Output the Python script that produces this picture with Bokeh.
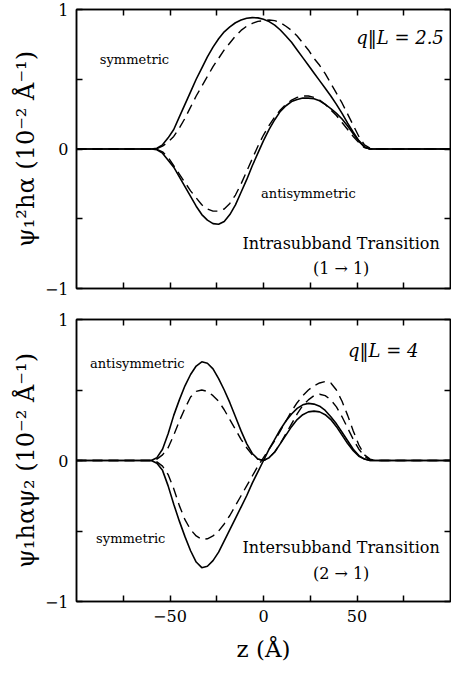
from bokeh.plotting import figure
from bokeh.models import LinearAxis, FixedTicker, Label, Range1d
from bokeh.layouts import column
from bokeh.embed import file_html
from bokeh.resources import INLINE

# z positions (Angstrom)
z = [-100, -60, -57, -54, -51, -48, -45, -42, -39, -36, -33, -30, -27, -24, -21,
     -18, -15, -12, -9, -6, -3, 0, 3, 6, 9, 12, 15, 18, 21, 24, 27, 30, 33, 36,
     39, 42, 45, 48, 51, 54, 57, 60, 100]

# Upper panel: intrasubband transition (1 -> 1), q L = 2.5
top_sym_solid = [0, 0, 0.005, 0.03, 0.08, 0.14, 0.23, 0.32, 0.41, 0.50, 0.58, 0.66, 0.73,
                 0.79, 0.84, 0.875, 0.905, 0.925, 0.937, 0.942, 0.94, 0.93, 0.913, 0.888,
                 0.853, 0.81, 0.765, 0.71, 0.655, 0.60, 0.545, 0.49, 0.435, 0.38, 0.32,
                 0.255, 0.185, 0.12, 0.06, 0.015, 0, 0, 0]
top_anti_solid = [0, 0, -0.005, -0.03, -0.08, -0.13, -0.20, -0.27, -0.34, -0.41, -0.47, -0.51,
                  -0.535, -0.54, -0.52, -0.47, -0.40, -0.31, -0.22, -0.12, -0.03, 0.06, 0.14,
                  0.21, 0.27, 0.31, 0.34, 0.355, 0.365, 0.365, 0.36, 0.345, 0.32, 0.29,
                  0.255, 0.215, 0.165, 0.11, 0.055, 0.015, 0, 0, 0]
top_sym_dash = [0, 0, 0.003, 0.02, 0.05, 0.09, 0.15, 0.22, 0.30, 0.38, 0.45, 0.52, 0.59, 0.65,
                0.71, 0.76, 0.81, 0.85, 0.88, 0.90, 0.915, 0.92, 0.925, 0.92, 0.905, 0.88,
                0.85, 0.81, 0.76, 0.71, 0.65, 0.60, 0.54, 0.47, 0.40, 0.33, 0.25, 0.17,
                0.09, 0.03, 0.005, 0, 0]
top_anti_dash = [0, 0, -0.003, -0.02, -0.06, -0.12, -0.18, -0.24, -0.30, -0.35, -0.40, -0.43,
                 -0.445, -0.445, -0.43, -0.39, -0.33, -0.25, -0.16, -0.07, 0.02, 0.10, 0.17,
                 0.23, 0.28, 0.32, 0.35, 0.37, 0.38, 0.38, 0.37, 0.35, 0.32, 0.28, 0.24,
                 0.19, 0.14, 0.09, 0.045, 0.01, 0, 0, 0]

# Lower panel: intersubband transition (2 -> 1), q L = 4
bot_anti_solid = [0, 0, 0.02, 0.08, 0.19, 0.32, 0.43, 0.53, 0.61, 0.67, 0.70, 0.69, 0.65,
                  0.58, 0.50, 0.41, 0.31, 0.21, 0.12, 0.05, 0.01, 0.0, 0.02, 0.06, 0.12,
                  0.18, 0.24, 0.29, 0.325, 0.345, 0.35, 0.345, 0.325, 0.29, 0.24, 0.18,
                  0.12, 0.07, 0.03, 0.01, 0, 0, 0]
bot_sym_solid = [0, 0, -0.02, -0.07, -0.18, -0.31, -0.43, -0.54, -0.64, -0.72, -0.76, -0.75,
                 -0.71, -0.65, -0.57, -0.49, -0.41, -0.33, -0.25, -0.16, -0.08, 0.0, 0.08,
                 0.15, 0.22, 0.28, 0.33, 0.37, 0.395, 0.405, 0.40, 0.385, 0.355, 0.31, 0.26,
                 0.20, 0.14, 0.08, 0.035, 0.01, 0, 0, 0]
bot_sym_dash = [0, 0, -0.01, -0.04, -0.10, -0.20, -0.32, -0.42, -0.49, -0.535, -0.56, -0.555,
                -0.535, -0.50, -0.45, -0.39, -0.32, -0.25, -0.18, -0.11, -0.04, 0.02, 0.08,
                0.14, 0.21, 0.28, 0.35, 0.41, 0.46, 0.50, 0.53, 0.55, 0.56, 0.55, 0.50, 0.42,
                0.32, 0.21, 0.11, 0.04, 0.01, 0, 0]
bot_anti_dash = [0, 0, 0.01, 0.04, 0.09, 0.18, 0.28, 0.37, 0.45, 0.49, 0.50, 0.49, 0.46, 0.42,
                 0.36, 0.29, 0.22, 0.15, 0.09, 0.04, 0.01, 0.0, 0.02, 0.06, 0.12, 0.19, 0.26,
                 0.33, 0.39, 0.43, 0.46, 0.47, 0.46, 0.43, 0.38, 0.31, 0.23, 0.15, 0.08, 0.03,
                 0.005, 0, 0]

x_ticks = [-75, -50, -25, 0, 25, 50, 75]
x_tick_labels = {-75: "", -50: "\u221250", -25: "", 0: "0", 25: "", 50: "50", 75: ""}
y_ticks = [-1, -0.5, 0, 0.5, 1]
y_tick_labels = {-1: "\u22121", -0.5: "", 0: "0", 0.5: "", 1: "1"}

SERIF = "DejaVu Serif"


def style_axis(ax, ticks, labels, show_labels):
    ax.ticker = FixedTicker(ticks=ticks)
    ax.axis_line_color = "black"
    ax.axis_line_width = 1.5
    ax.major_tick_in = 6
    ax.major_tick_out = 0
    ax.major_tick_line_width = 1.5
    ax.major_tick_line_color = "black"
    ax.minor_tick_line_color = None
    if show_labels:
        ax.major_label_overrides = labels
        ax.major_label_text_font = SERIF
        ax.major_label_text_font_size = "16px"
        ax.major_label_text_color = "black"
        ax.major_label_standoff = 8
    else:
        ax.major_label_overrides = {t: "" for t in ticks}
        ax.major_label_text_font_size = "0px"
        ax.major_label_standoff = 0


def make_panel(height, b_top, b_bottom, ylabel, xlabel):
    p = figure(width=451, height=height, x_range=Range1d(-100, 100), y_range=Range1d(-1, 1),
               output_backend="svg", toolbar_location=None,
               min_border_left=76, min_border_right=1, min_border_top=b_top,
               min_border_bottom=b_bottom)
    p.grid.visible = False
    p.outline_line_color = "black"
    p.outline_line_width = 1.5
    p.background_fill_color = "white"
    p.border_fill_color = "white"
    bottom_ax = p.below[0]
    left_ax = p.left[0]
    style_axis(bottom_ax, x_ticks, x_tick_labels, xlabel is not None)
    style_axis(left_ax, y_ticks, y_tick_labels, True)
    left_ax.axis_label = ylabel
    left_ax.axis_label_text_font = SERIF
    left_ax.axis_label_text_font_size = "24px"
    left_ax.axis_label_text_font_style = "normal"
    left_ax.axis_label_text_color = "black"
    left_ax.axis_label_standoff = 2
    if xlabel is not None:
        bottom_ax.major_label_standoff = 8
        bottom_ax.axis_label = xlabel
        bottom_ax.axis_label_text_font = SERIF
        bottom_ax.axis_label_text_font_size = "23px"
        bottom_ax.axis_label_text_font_style = "normal"
        bottom_ax.axis_label_text_color = "black"
        bottom_ax.axis_label_standoff = 11
    top_ax = LinearAxis()
    style_axis(top_ax, x_ticks, x_tick_labels, False)
    p.add_layout(top_ax, "above")
    right_ax = LinearAxis()
    style_axis(right_ax, y_ticks, y_tick_labels, False)
    p.add_layout(right_ax, "right")
    return p


def add_text(p, x, y, text, size, style="normal"):
    p.add_layout(Label(x=x, y=y, text=text, text_font=SERIF, text_font_size=size,
                       text_font_style=style, text_align="center",
                       text_baseline="middle", text_color="black"))


p1 = make_panel(306, 9, 18, "\u03c8\u2081\u00b2h\u03b1 (10\u207b\u00b2 \u00c5\u207b\u00b9)", None)
p1.line(z, top_sym_solid, line_color="black", line_width=1.6)
p1.line(z, top_anti_solid, line_color="black", line_width=1.6)
p1.line(z, top_sym_dash, line_color="black", line_width=1.4, line_dash="10 6")
p1.line(z, top_anti_dash, line_color="black", line_width=1.4, line_dash="10 6")
add_text(p1, -69, 0.64, "symmetric", "13px")
add_text(p1, 24, -0.32, "antisymmetric", "13px")
add_text(p1, 73, 0.8, "q\u2016L = 2.5", "18px", "italic")
add_text(p1, 41.5, -0.68, "Intrasubband Transition", "16px")
add_text(p1, 41.5, -0.86, "(1 \u2192 1)", "16px")

p2 = make_panel(360, 13, 65, "\u03c8\u2081h\u03b1\u03c8\u2082 (10\u207b\u00b2 \u00c5\u207b\u00b9)",
                "z (\u00c5)")
p2.line(z, bot_anti_solid, line_color="black", line_width=1.6)
p2.line(z, bot_sym_solid, line_color="black", line_width=1.6)
p2.line(z, bot_sym_dash, line_color="black", line_width=1.4, line_dash="10 6")
p2.line(z, bot_anti_dash, line_color="black", line_width=1.4, line_dash="10 6")
add_text(p2, -67.5, 0.69, "antisymmetric", "13px")
add_text(p2, -71, -0.55, "symmetric", "13px")
add_text(p2, 64, 0.78, "q\u2016L = 4", "18px", "italic")
add_text(p2, 41.5, -0.62, "Intersubband Transition", "16px")
add_text(p2, 41.5, -0.80, "(2 \u2192 1)", "16px")

layout = column(p1, p2)
open("out.html", "w").write(file_html(layout, INLINE))
